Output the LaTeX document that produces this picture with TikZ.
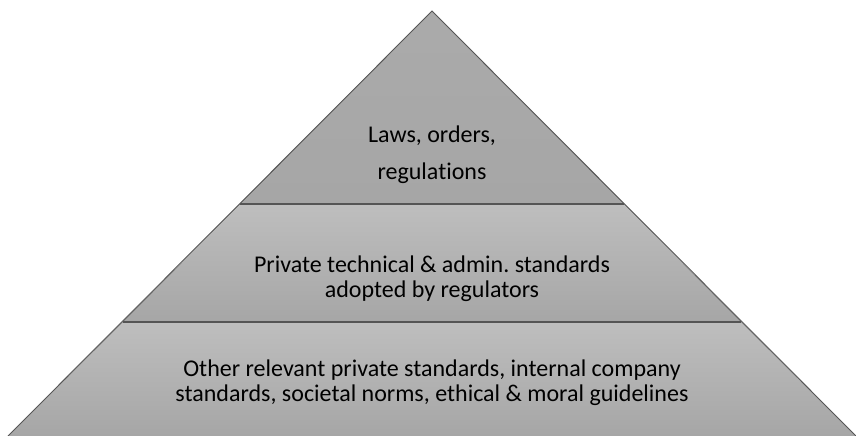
\documentclass[tikz,border=0pt]{standalone}
\usepackage{fontspec}
\setmainfont[Ligatures=NoCommon]{Carlito}
\definecolor{layerlight}{RGB}{190,190,190}
\definecolor{layerdark}{RGB}{166,166,166}
\definecolor{edgegray}{RGB}{85,85,85}

\begin{document}
\begin{tikzpicture}[
    x=1pt, y=-1pt,
    every node/.style={font=\fontsize{24}{25}\selectfont, align=center, text=black},
    layer/.style={top color=layerlight, bottom color=layerdark},
    outline/.style={draw=edgegray, line width=0.9pt, line join=miter},
    divider/.style={draw=edgegray, line width=2.2pt}
]
\useasboundingbox (0,0) rectangle (856,436);

% Corners of the pyramid
\coordinate (apex) at (432,11);
\coordinate (l1) at (240,204);
\coordinate (r1) at (624,204);
\coordinate (l2) at (123,322);
\coordinate (r2) at (741,322);
\coordinate (l3) at (8,436);
\coordinate (r3) at (856,436);

% Layers
\fill[layer, top color=layerdark!95!white, bottom color=layerdark] (apex) -- (r1) -- (l1) -- cycle;
\fill[layer] (l1) -- (r1) -- (r2) -- (l2) -- cycle;
\fill[layer] (l2) -- (r2) -- (r3) -- (l3) -- cycle;

% Outline and dividers
\draw[outline] (l3) -- (apex) -- (r3);
\draw[divider] (l1) -- (r1);
\draw[divider] (l2) -- (r2);

% Labels
\node (laws) at (432,155) {Laws, orders,\\[12pt]regulations};
\node (private) at (432,279) {Private technical \& admin.\ standards\\adopted by regulators};
\node (other) at (432,383) {Other relevant private standards, internal company\\standards, societal norms, ethical \& moral guidelines};

\end{tikzpicture}
\end{document}
